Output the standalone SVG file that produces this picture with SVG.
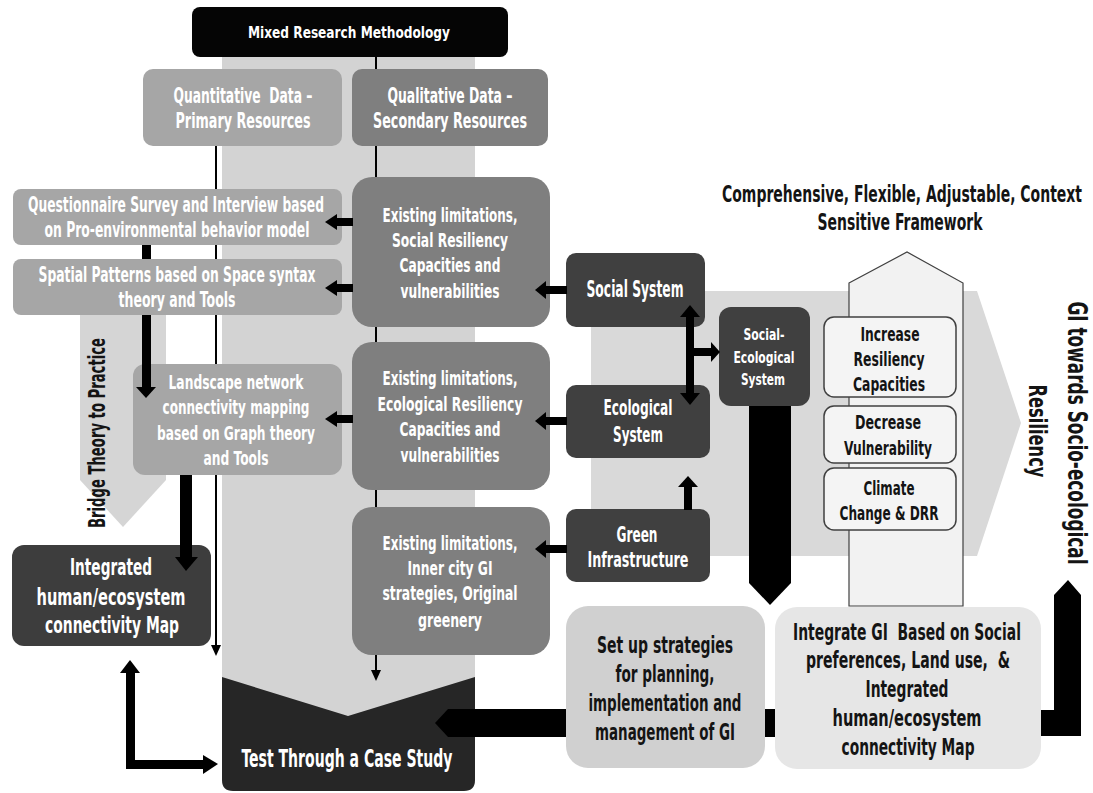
<svg xmlns="http://www.w3.org/2000/svg" width="1093" height="793" viewBox="0 0 1093 793">
<style>
.t{font-family:"DejaVu Sans Condensed","DejaVu Sans","Liberation Sans",sans-serif;font-stretch:condensed;font-weight:bold;text-anchor:middle;white-space:pre}
.w{fill:#ffffff}
.b{fill:#141414}
.blk{fill:#000000}
.thin{stroke:#000000;stroke-width:2;fill:none}
.dk{fill:#404040}
.md{fill:#7f7f7f}
.lt{fill:#a6a6a6}
.wb{fill:#f4f4f4;stroke:#404040;stroke-width:1.5}
</style>
<rect width="1093" height="793" fill="#ffffff"/>
<g id="background">
  <rect x="222" y="57" width="253" height="659" fill="#d3d3d3"/>
  <polygon points="80,315 166,315 166,480 123,527 80,480" fill="#d5d5d5"/>
  <polygon points="591,291 977,291 1021,423 977,556 591,556" fill="#d9d9d9"/>
  <polygon points="849,283 907,252 963,283 963,606 849,606" fill="#f2f2f2" stroke="#404040" stroke-width="1.2"/>
</g>
<g id="n-mixed">
  <rect x="192" y="7" width="316" height="50" rx="8" fill="#050505"/>
  <text class="t w" x="349" y="38" font-size="16" textLength="202" lengthAdjust="spacingAndGlyphs">Mixed Research Methodology</text>
</g>
<g id="n-quant">
  <rect x="143" y="69" width="199" height="77" rx="10" class="lt"/>
  <text class="t w" x="243" y="103" font-size="21" textLength="139" lengthAdjust="spacingAndGlyphs">Quantitative  Data –</text>
  <text class="t w" x="243" y="128" font-size="21" textLength="135" lengthAdjust="spacingAndGlyphs">Primary Resources</text>
</g>
<g id="n-qual">
  <rect x="352" y="69" width="196" height="77" rx="10" class="md"/>
  <text class="t w" x="450" y="103" font-size="21" textLength="125" lengthAdjust="spacingAndGlyphs">Qualitative Data –</text>
  <text class="t w" x="450" y="128" font-size="21" textLength="154" lengthAdjust="spacingAndGlyphs">Secondary Resources</text>
</g>
<g id="n-questionnaire">
  <rect x="13" y="189" width="329" height="56" rx="8" class="lt"/>
  <text class="t w" x="176" y="212" font-size="21" textLength="296" lengthAdjust="spacingAndGlyphs">Questionnaire Survey and Interview based</text>
  <text class="t w" x="177" y="237" font-size="21" textLength="265" lengthAdjust="spacingAndGlyphs">on Pro-environmental behavior model</text>
</g>
<g id="n-spatial">
  <rect x="13" y="259" width="329" height="56" rx="8" class="lt"/>
  <text class="t w" x="177" y="282" font-size="21" textLength="277" lengthAdjust="spacingAndGlyphs">Spatial Patterns based on Space syntax</text>
  <text class="t w" x="177" y="307" font-size="21" textLength="117" lengthAdjust="spacingAndGlyphs">theory and Tools</text>
</g>
<g id="n-bridge">
  <text class="t b" transform="translate(105,433) rotate(-90)" x="0" y="0" font-size="23" textLength="190" lengthAdjust="spacingAndGlyphs">Bridge Theory to Practice</text>
</g>
<g id="n-landscape">
  <rect x="133" y="364" width="209" height="111" rx="12" class="lt"/>
  <text class="t w" x="236" y="389" font-size="20" textLength="135" lengthAdjust="spacingAndGlyphs">Landscape network</text>
  <text class="t w" x="236" y="414" font-size="20" textLength="147" lengthAdjust="spacingAndGlyphs">connectivity mapping</text>
  <text class="t w" x="236" y="440" font-size="20" textLength="158" lengthAdjust="spacingAndGlyphs">based on Graph theory</text>
  <text class="t w" x="236" y="465" font-size="20" textLength="65" lengthAdjust="spacingAndGlyphs">and Tools</text>
</g>
<g id="n-integrated">
  <rect x="12" y="545" width="199" height="101" rx="12" fill="#3d3d3d"/>
  <text class="t w" x="111" y="575" font-size="23" textLength="82" lengthAdjust="spacingAndGlyphs">Integrated</text>
  <text class="t w" x="111" y="605" font-size="23" textLength="149" lengthAdjust="spacingAndGlyphs">human/ecosystem</text>
  <text class="t w" x="112" y="633" font-size="23" textLength="134" lengthAdjust="spacingAndGlyphs">connectivity Map</text>
</g>
<g id="n-test">
  <path d="M222,677 L348,716 L475,677 L475,780 Q475,791 464,791 L233,791 Q222,791 222,780 Z" fill="#262626"/>
  <text class="t w" x="347" y="767" font-size="25" textLength="211" lengthAdjust="spacingAndGlyphs">Test Through a Case Study</text>
</g>
<g id="n-exist-social">
  <rect x="352" y="177" width="198" height="150" rx="20" class="md"/>
  <text class="t w" x="450" y="222" font-size="20" textLength="135" lengthAdjust="spacingAndGlyphs">Existing limitations,</text>
  <text class="t w" x="450" y="247" font-size="20" textLength="116" lengthAdjust="spacingAndGlyphs">Social Resiliency</text>
  <text class="t w" x="450" y="272" font-size="20" textLength="101" lengthAdjust="spacingAndGlyphs">Capacities and</text>
  <text class="t w" x="450" y="298" font-size="20" textLength="99" lengthAdjust="spacingAndGlyphs">vulnerabilities</text>
</g>
<g id="n-exist-eco">
  <rect x="352" y="342" width="198" height="148" rx="20" class="md"/>
  <text class="t w" x="450" y="385" font-size="20" textLength="135" lengthAdjust="spacingAndGlyphs">Existing limitations,</text>
  <text class="t w" x="450" y="411" font-size="20" textLength="145" lengthAdjust="spacingAndGlyphs">Ecological Resiliency</text>
  <text class="t w" x="450" y="436" font-size="20" textLength="101" lengthAdjust="spacingAndGlyphs">Capacities and</text>
  <text class="t w" x="450" y="462" font-size="20" textLength="99" lengthAdjust="spacingAndGlyphs">vulnerabilities</text>
</g>
<g id="n-exist-gi">
  <rect x="352" y="507" width="198" height="148" rx="20" class="md"/>
  <text class="t w" x="450" y="550" font-size="20" textLength="135" lengthAdjust="spacingAndGlyphs">Existing limitations,</text>
  <text class="t w" x="450" y="575" font-size="20" textLength="85" lengthAdjust="spacingAndGlyphs">Inner city GI</text>
  <text class="t w" x="450" y="600" font-size="20" textLength="135" lengthAdjust="spacingAndGlyphs">strategies, Original</text>
  <text class="t w" x="450" y="627" font-size="20" textLength="64" lengthAdjust="spacingAndGlyphs">greenery</text>
</g>
<g id="n-social-system">
  <rect x="566" y="253" width="139" height="74" rx="10" class="dk"/>
  <text class="t w" x="635" y="297" font-size="23" textLength="97" lengthAdjust="spacingAndGlyphs">Social System</text>
</g>
<g id="n-eco-system">
  <rect x="566" y="385" width="144" height="73" rx="10" class="dk"/>
  <text class="t w" x="638" y="415" font-size="21" textLength="69" lengthAdjust="spacingAndGlyphs">Ecological</text>
  <text class="t w" x="638" y="442" font-size="21" textLength="50" lengthAdjust="spacingAndGlyphs">System</text>
</g>
<g id="n-green">
  <rect x="566" y="509" width="144" height="73" rx="10" class="dk"/>
  <text class="t w" x="637" y="542" font-size="21" textLength="41" lengthAdjust="spacingAndGlyphs">Green</text>
  <text class="t w" x="638" y="567" font-size="21" textLength="101" lengthAdjust="spacingAndGlyphs">Infrastructure</text>
</g>
<g id="n-ses">
  <rect x="719" y="307" width="91" height="99" rx="12" class="dk"/>
  <text class="t w" x="764" y="340" font-size="16" textLength="41" lengthAdjust="spacingAndGlyphs">Social-</text>
  <text class="t w" x="764" y="363" font-size="16" textLength="61" lengthAdjust="spacingAndGlyphs">Ecological</text>
  <text class="t w" x="763" y="385" font-size="16" textLength="44" lengthAdjust="spacingAndGlyphs">System</text>
</g>
<g id="n-framework">
  <text class="t b" x="902" y="202" font-size="23" textLength="360" lengthAdjust="spacingAndGlyphs">Comprehensive, Flexible, Adjustable, Context</text>
  <text class="t b" x="900" y="230" font-size="23" textLength="165" lengthAdjust="spacingAndGlyphs">Sensitive Framework</text>
</g>
<g id="n-increase">
  <rect x="824" y="317" width="132" height="80" rx="10" class="wb"/>
  <text class="t b" x="890" y="341" font-size="20" textLength="59" lengthAdjust="spacingAndGlyphs">Increase</text>
  <text class="t b" x="889" y="366" font-size="20" textLength="71" lengthAdjust="spacingAndGlyphs">Resiliency</text>
  <text class="t b" x="889" y="391" font-size="20" textLength="72" lengthAdjust="spacingAndGlyphs">Capacities</text>
</g>
<g id="n-decrease">
  <rect x="824" y="406" width="132" height="57" rx="10" class="wb"/>
  <text class="t b" x="888" y="429" font-size="20" textLength="66" lengthAdjust="spacingAndGlyphs">Decrease</text>
  <text class="t b" x="888" y="455" font-size="20" textLength="88" lengthAdjust="spacingAndGlyphs">Vulnerability</text>
</g>
<g id="n-climate">
  <rect x="824" y="468" width="132" height="62" rx="10" class="wb"/>
  <text class="t b" x="889" y="495" font-size="20" textLength="51" lengthAdjust="spacingAndGlyphs">Climate</text>
  <text class="t b" x="889" y="520" font-size="20" textLength="99" lengthAdjust="spacingAndGlyphs">Change &amp; DRR</text>
</g>
<g id="n-gi-towards">
  <text class="t b" transform="translate(1068,433) rotate(90)" x="0" y="0" font-size="26" textLength="263" lengthAdjust="spacingAndGlyphs">GI towards Socio-ecological</text>
  <text class="t b" transform="translate(1029,431) rotate(90)" x="0" y="0" font-size="24" textLength="93" lengthAdjust="spacingAndGlyphs">Resiliency</text>
</g>
<g id="connectors">
  <path class="thin" d="M216,146 V189 M216,245 V259 M216,315 V364 M216,475 V647"/>
  <polygon class="blk" points="211,645 221,645 216,656"/>
  <path class="thin" d="M376,57 V69 M376,146 V177 M376,327 V342 M376,490 V507 M376,655 V672"/>
  <polygon class="blk" points="371,670 381,670 376,681"/>
  <rect class="blk" x="142" y="245" width="9" height="14"/>
  <rect class="blk" x="142" y="315" width="9" height="74"/>
  <polygon class="blk" points="136,387 156,387 146,398"/>
  <rect class="blk" x="180" y="475" width="12" height="84"/>
  <polygon class="blk" points="175,557 198,557 186,571"/>
  <rect class="blk" x="334" y="218" width="19" height="8"/>
  <polygon class="blk" points="325,222 337,214 337,230"/>
  <rect class="blk" x="334" y="284" width="19" height="8"/>
  <polygon class="blk" points="325,288 337,280 337,296"/>
  <rect class="blk" x="334" y="415" width="19" height="8"/>
  <polygon class="blk" points="325,419 337,411 337,427"/>
  <rect class="blk" x="543" y="286" width="24" height="8"/>
  <polygon class="blk" points="535,290 546,281 546,299"/>
  <rect class="blk" x="543" y="417" width="24" height="8"/>
  <polygon class="blk" points="535,421 546,412 546,430"/>
  <rect class="blk" x="543" y="545" width="24" height="8"/>
  <polygon class="blk" points="535,549 546,540 546,558"/>
  <rect class="blk" x="684" y="485" width="8" height="25"/>
  <polygon class="blk" points="678,487 698,487 688,476"/>
  <rect class="blk" x="686" y="315" width="8" height="80"/>
  <polygon class="blk" points="680,317 700,317 690,305"/>
  <polygon class="blk" points="680,393 700,393 690,405"/>
  <rect class="blk" x="690" y="348" width="23" height="8"/>
  <polygon class="blk" points="711,342 711,362 720,352"/>
  <polygon class="blk" points="749,406 791,406 791,583 770,605 749,583"/>
  <rect class="blk" x="126" y="671" width="9" height="98"/>
  <rect class="blk" x="126" y="760" width="78" height="9"/>
  <polygon class="blk" points="120,673 140,673 130,660"/>
  <polygon class="blk" points="203,755 203,774 218,764"/>
  <polygon class="blk" points="566,709 448,709 435,723 448,737 566,737"/>
  <rect class="blk" x="765" y="709" width="11" height="28"/>
  <polygon class="blk" points="1041,710 1054,710 1054,595 1068,580 1081,595 1081,736 1041,736"/>
</g>
<g id="n-setup">
  <rect x="566" y="606" width="199" height="162" rx="22" fill="#d0d0d0"/>
  <text class="t b" x="665" y="653" font-size="23" textLength="136" lengthAdjust="spacingAndGlyphs">Set up strategies</text>
  <text class="t b" x="665" y="682" font-size="23" textLength="99" lengthAdjust="spacingAndGlyphs">for planning,</text>
  <text class="t b" x="665" y="711" font-size="23" textLength="153" lengthAdjust="spacingAndGlyphs">implementation and</text>
  <text class="t b" x="665" y="740" font-size="23" textLength="140" lengthAdjust="spacingAndGlyphs">management of GI</text>
</g>
<g id="n-integrate-gi">
  <rect x="775" y="607" width="266" height="162" rx="22" fill="#e6e6e6"/>
  <text class="t b" x="907" y="640" font-size="23" textLength="228" lengthAdjust="spacingAndGlyphs">Integrate GI  Based on Social</text>
  <text class="t b" x="908" y="668" font-size="23" textLength="204" lengthAdjust="spacingAndGlyphs">preferences, Land use,  &amp;</text>
  <text class="t b" x="907" y="697" font-size="23" textLength="83" lengthAdjust="spacingAndGlyphs">Integrated</text>
  <text class="t b" x="907" y="726" font-size="23" textLength="149" lengthAdjust="spacingAndGlyphs">human/ecosystem</text>
  <text class="t b" x="908" y="755" font-size="23" textLength="133" lengthAdjust="spacingAndGlyphs">connectivity Map</text>
</g>
</svg>
